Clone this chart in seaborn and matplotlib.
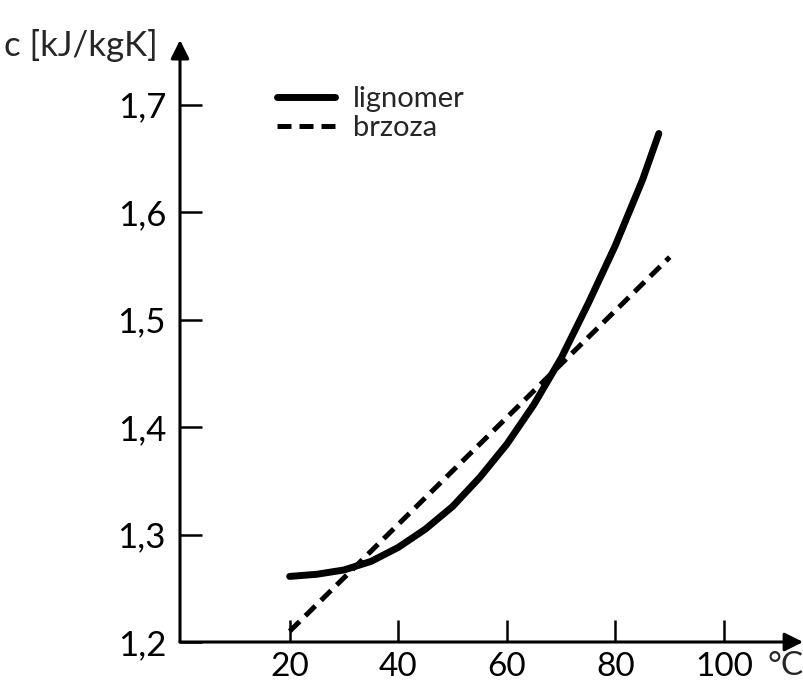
import matplotlib
matplotlib.use("Agg")
import matplotlib.pyplot as plt
import seaborn as sns
import pandas as pd
from matplotlib.lines import Line2D

# ---- data ----
lignomer_x = [20, 25, 30, 35, 40, 45, 50, 55, 60, 65, 70, 75, 80, 85, 88]
lignomer_y = [1.261, 1.263, 1.267, 1.275, 1.288, 1.305, 1.326, 1.353, 1.384, 1.421, 1.464, 1.515, 1.569, 1.630, 1.673]
brzoza_x = [20, 90]
brzoza_y = [1.210, 1.558]
x_ticks = [20, 40, 60, 80, 100]
x_ticklabels = ["20", "40", "60", "80", "100"]
y_ticks = [1.2, 1.3, 1.4, 1.5, 1.6, 1.7]
y_ticklabels = ["1,2", "1,3", "1,4", "1,5", "1,6", "1,7"]
series_names = ["lignomer", "brzoza"]

sns.set_theme(style="white")
plt.rcParams["font.family"] = ["Lato", "DejaVu Sans"]

fig = plt.figure(figsize=(8.04, 6.88), dpi=100)
ax = fig.add_axes([180 / 804, 46 / 688, 620 / 804, 602 / 688])

df_l = pd.DataFrame({"t": lignomer_x, "c": lignomer_y})
df_b = pd.DataFrame({"t": brzoza_x, "c": brzoza_y})
sns.lineplot(data=df_l, x="t", y="c", ax=ax, color="black", lw=5.0,
             solid_capstyle="round", solid_joinstyle="round", sort=False)
sns.lineplot(data=df_b, x="t", y="c", ax=ax, color="black", lw=3.6,
             dashes=False, sort=False)
ax.lines[-1].set_dashes((2.8, 1.6))

ax.set_xlim(-0.2, 114)
ax.set_ylim(1.2, 1.76)
for s in ax.spines.values():
    s.set_visible(False)

ax.set_xticks(x_ticks)
ax.set_xticklabels(x_ticklabels, fontsize=24)
ax.set_yticks(y_ticks)
ax.set_yticklabels(y_ticklabels, fontsize=25)
ax.tick_params(axis="both", direction="in", length=16, width=1.8, color="black",
               labelcolor="black", bottom=True, left=True)
ax.tick_params(axis="x", pad=7)
ax.tick_params(axis="y", pad=10)
ax.set_xlabel("")
ax.set_ylabel("")

# axis arrows
ax.annotate("", xy=(1.005, 0), xytext=(0, 0), xycoords="axes fraction",
            arrowprops=dict(arrowstyle="-|>", lw=2.2, color="black",
                            mutation_scale=28, shrinkA=0, shrinkB=0),
            annotation_clip=False)
ax.annotate("", xy=(0, 1.0), xytext=(0, 0), xycoords="axes fraction",
            arrowprops=dict(arrowstyle="-|>", lw=2.2, color="black",
                            mutation_scale=28, shrinkA=0, shrinkB=0),
            annotation_clip=False)

fig.text(4 / 804, 1 - 46 / 688, "c [kJ/kgK]", fontsize=25, ha="left", va="center")
fig.text(768 / 804, 1 - 666 / 688, "°C", fontsize=24, ha="left", va="center")

handles = [Line2D([], [], color="black", lw=5.0),
           Line2D([], [], color="black", lw=3.6, dashes=(2.8, 1.6))]
leg = ax.legend(handles, series_names, loc="upper left",
                bbox_to_anchor=(277 / 804, 1 - 86 / 688),
                bbox_transform=fig.transFigure, frameon=False, fontsize=21,
                handlelength=2.0, handletextpad=0.6, labelspacing=0.12,
                borderpad=0, borderaxespad=0)

fig.savefig("out.png", dpi=100)
